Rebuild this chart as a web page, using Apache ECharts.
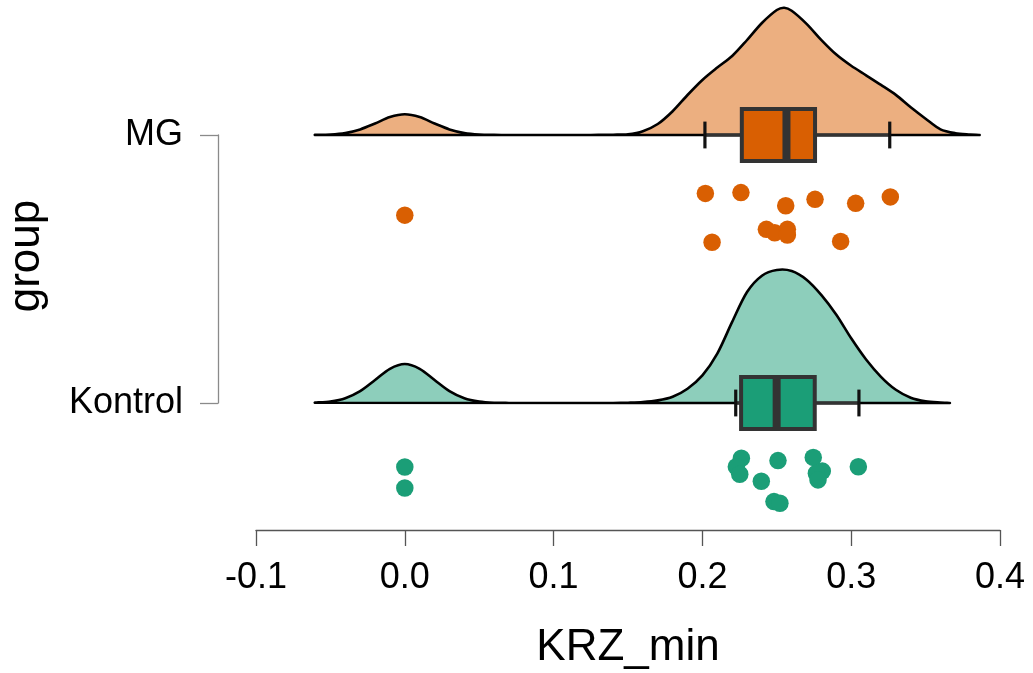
<!DOCTYPE html>
<html>
<head>
<meta charset="utf-8">
<script src="https://cdn.jsdelivr.net/npm/echarts@6/dist/echarts.min.js"></script>
<style>
  html, body { margin: 0; padding: 0; background: #fff; }
  #chart { width: 1033px; height: 673px; }
</style>
</head>
<body>
<div id="chart"></div>
<script>
// Group order on the vertical axis (index = axis value)
const groups = ['Kontrol', 'MG'];

// Raw KRZ_min observations and their vertical jitter (rain below each cloud)
const kontrolValues = [0.2262, 0.2228, 0.2251, 0.2508, 0.2396, 0.2745, 0.2806, 0.2766, 0.2777, 0.3048, 0.2481, 0.2521, 0.0, 0.0];
const kontrolJitter = [-0.206, -0.238, -0.266, -0.215, -0.292, -0.203, -0.254, -0.262, -0.287, -0.238, -0.368, -0.374, -0.239, -0.317];
const mgValues = [0.2020, 0.2259, 0.2560, 0.2757, 0.3030, 0.3263, 0.2065, 0.2430, 0.2486, 0.2571, 0.2571, 0.2929, 0.0];
const mgJitter = [-0.218, -0.215, -0.264, -0.240, -0.255, -0.231, -0.400, -0.352, -0.365, -0.352, -0.373, -0.397, -0.299];

// Box statistics: lower whisker, Q1, median, Q3, upper whisker
const kontrolBox = [0.2224, 0.2260, 0.2499, 0.2755, 0.3052];
const mgBox = [0.2017, 0.2265, 0.2565, 0.2757, 0.3259];

// Kernel density estimates (x grid and density)
const kontrolDensX = [-0.06, -0.05, -0.04, -0.03, -0.02, -0.01, 0.00, 0.01, 0.02, 0.03, 0.04, 0.05, 0.06, 0.07, 0.08, 0.09, 0.10, 0.11, 0.12, 0.13, 0.14, 0.15, 0.16, 0.17, 0.18, 0.19, 0.20, 0.21, 0.22, 0.23, 0.24, 0.25, 0.26, 0.27, 0.28, 0.29, 0.30, 0.31, 0.32, 0.33, 0.34, 0.35, 0.36, 0.366];
const kontrolDens  = [0.03, 0.15, 0.48, 1.19, 2.30, 3.42, 3.90, 3.42, 2.30, 1.19, 0.48, 0.15, 0.03, 0.006, 0, 0, 0, 0, 0, 0, 0, 0.03, 0.09, 0.26, 0.63, 1.43, 2.76, 4.94, 8.11, 11.10, 12.73, 13.30, 13.20, 12.33, 10.79, 8.83, 6.47, 4.35, 2.62, 1.32, 0.53, 0.17, 0.04, 0];
const mgDensX = [-0.06, -0.05, -0.04, -0.03, -0.02, -0.01, 0.00, 0.01, 0.02, 0.03, 0.04, 0.05, 0.06, 0.07, 0.08, 0.09, 0.10, 0.11, 0.12, 0.13, 0.14, 0.15, 0.16, 0.17, 0.18, 0.19, 0.20, 0.21, 0.22, 0.23, 0.24, 0.25, 0.255, 0.26, 0.27, 0.28, 0.29, 0.30, 0.31, 0.32, 0.33, 0.34, 0.35, 0.36, 0.37, 0.38, 0.386];
const mgDens  = [0.01, 0.05, 0.20, 0.56, 1.15, 1.79, 2.07, 1.79, 1.15, 0.56, 0.20, 0.05, 0.01, 0, 0, 0, 0, 0, 0.005, 0.01, 0.03, 0.08, 0.385, 1.10, 2.38, 4.00, 5.50, 6.74, 7.90, 9.50, 11.20, 12.50, 12.73, 12.43, 11.12, 9.49, 8.04, 6.92, 5.97, 5.01, 4.01, 2.77, 1.63, 0.56, 0.18, 0.05, 0];

const FONT = "'Liberation Sans', Arial, Helvetica, sans-serif";
const COLORS = { Kontrol: '#1B9E77', MG: '#D95F02' };
const CLOUD = { Kontrol: '#8DCEBB', MG: '#ECAF80' };
const DENS_SCALE = 10 / 268;   // axis units per density unit
const BOX_HALF = 0.097;        // half box height, axis units
const CAP_HALF = 0.05;         // half whisker cap height

function densityRenderer(xs, ds, g, fill) {
  return function (params, api) {
    const pts = xs.map((x, i) => api.coord([x, g + ds[i] * DENS_SCALE]));
    return {
      type: 'polygon',
      shape: { points: pts, smooth: 0.3 },
      style: { fill: fill, stroke: '#000', lineWidth: 2.6, lineJoin: 'round' }
    };
  };
}

function boxRenderer(stats, g, fill) {
  return function (params, api) {
    const [lw, q1, md, q3, uw] = stats;
    const px = v => api.coord([v, g])[0];
    const yc = api.coord([0, g])[1];
    const yTop = api.coord([0, g + BOX_HALF])[1];
    const yBot = api.coord([0, g - BOX_HALF])[1];
    const cTop = api.coord([0, g + CAP_HALF])[1];
    const cBot = api.coord([0, g - CAP_HALF])[1];
    const whisk = { stroke: '#333', lineWidth: 3.5 };
    const cap = { stroke: '#111', lineWidth: 3.2 };
    return {
      type: 'group',
      children: [
        { type: 'line', shape: { x1: px(lw), y1: yc, x2: px(q1), y2: yc }, style: whisk },
        { type: 'line', shape: { x1: px(q3), y1: yc, x2: px(uw), y2: yc }, style: whisk },
        { type: 'line', shape: { x1: px(lw), y1: cTop, x2: px(lw), y2: cBot }, style: cap },
        { type: 'line', shape: { x1: px(uw), y1: cTop, x2: px(uw), y2: cBot }, style: cap },
        { type: 'rect', shape: { x: px(q1), y: yTop, width: px(q3) - px(q1), height: yBot - yTop },
          style: { fill: fill, stroke: '#333', lineWidth: 4 } },
        { type: 'line', shape: { x1: px(md), y1: yTop, x2: px(md), y2: yBot }, style: { stroke: '#333', lineWidth: 8 } }
      ]
    };
  };
}

const chart = echarts.init(document.getElementById('chart'), null, { renderer: 'canvas' });

const series = [];
[['Kontrol', 0, kontrolDensX, kontrolDens], ['MG', 1, mgDensX, mgDens]].forEach(([name, g, xs, ds]) => {
  series.push({
    type: 'custom', name: name + ' density', silent: true, clip: false, z: 1,
    data: [[0, g]],
    renderItem: densityRenderer(xs, ds, g, CLOUD[name])
  });
});
[['Kontrol', 0, kontrolBox], ['MG', 1, mgBox]].forEach(([name, g, stats]) => {
  series.push({
    type: 'custom', name: name + ' box', silent: true, clip: false, z: 2,
    data: [[0, g]],
    renderItem: boxRenderer(stats, g, COLORS[name])
  });
});
[['Kontrol', 0, kontrolValues, kontrolJitter], ['MG', 1, mgValues, mgJitter]].forEach(([name, g, vals, jit]) => {
  series.push({
    type: 'scatter', name: name, clip: false, z: 3, silent: true,
    symbol: 'circle', symbolSize: 17.5,
    itemStyle: { color: COLORS[name], opacity: 1 },
    data: vals.map((v, i) => [v, g + jit[i]])
  });
});

chart.setOption({
  backgroundColor: '#fff',
  animation: false,
  grid: { left: 256, right: 33, top: 135, bottom: 270, containLabel: false, outerBoundsMode: 'none' },
  xAxis: {
    type: 'value', min: -0.1, max: 0.4, interval: 0.1, offset: 127,
    splitLine: { show: false },
    axisLine: { show: true, onZero: false, lineStyle: { color: '#555', width: 1.3 } },
    axisTick: { show: true, length: 16, lineStyle: { color: '#555', width: 1.3 } },
    axisLabel: {
      margin: 30, fontSize: 36, color: '#000', fontFamily: FONT,
      formatter: v => (Math.abs(v) < 1e-9 ? 0 : v).toFixed(1)
    },
    name: 'KRZ_min', nameLocation: 'middle', nameGap: 96,
    nameTextStyle: { fontSize: 44, color: '#000', fontFamily: FONT }
  },
  yAxis: {
    type: 'value', min: 0, max: 1, interval: 1, offset: 38,
    splitLine: { show: false },
    axisLine: { show: true, onZero: false, lineStyle: { color: '#8a8a8a', width: 1.3 } },
    axisTick: { show: true, length: 18, lineStyle: { color: '#8a8a8a', width: 1.3 } },
    axisLabel: {
      margin: 35, fontSize: 36, color: '#000', fontFamily: FONT,
      formatter: v => groups[Math.round(v)]
    }
  },
  graphic: [{
    type: 'text', x: 27, y: 256, rotation: Math.PI / 2,
    style: { text: 'group', fontSize: 44, fontFamily: FONT, fill: '#000', align: 'center', verticalAlign: 'middle' }
  }],
  series: series
});
</script>
</body>
</html>
